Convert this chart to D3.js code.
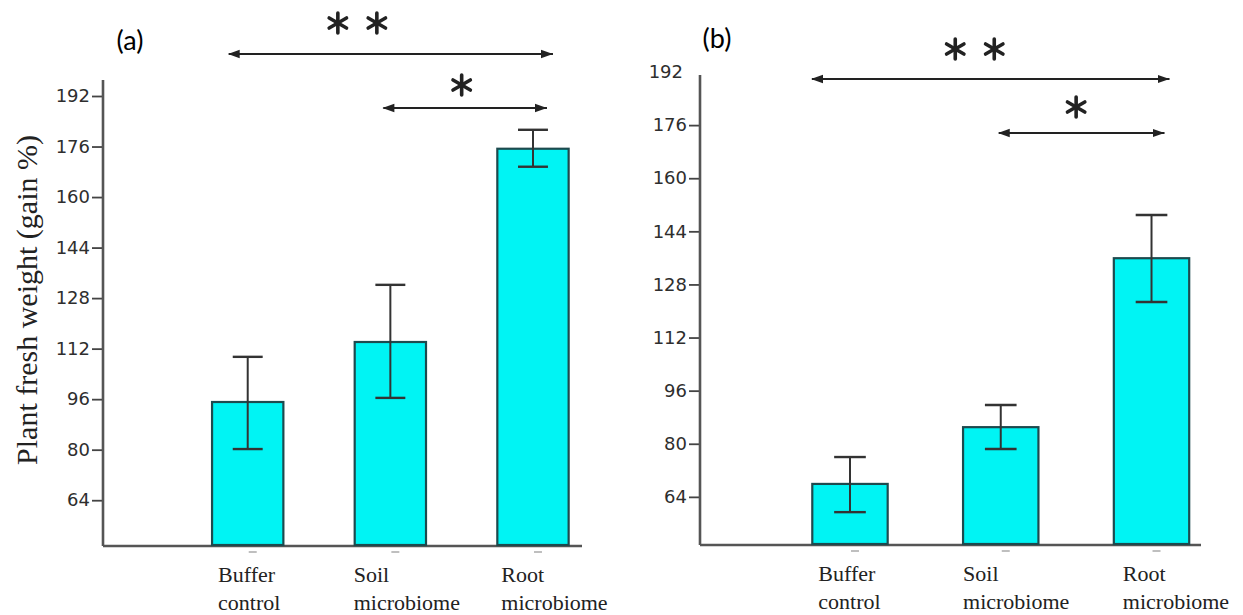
<!DOCTYPE html>
<html>
<head>
<meta charset="utf-8">
<script src="https://cdn.jsdelivr.net/npm/d3@7"></script>
<style>
  body { margin: 0; background: #fff; }
  svg { display: block; }
</style>
</head>
<body>
<svg id="chart" width="1243" height="615"></svg>
<script>
// Chart data
const categories = ['Buffer control', 'Soil microbiome', 'Root microbiome'];
const categoryLines = [['Buffer', 'control'], ['Soil', 'microbiome'], ['Root', 'microbiome']];
const yTicks = [64, 80, 96, 112, 128, 144, 160, 176, 192];
const yDomain = [49.5, 192];

// panel (a)
const meansA = [95.1, 114.1, 175.3];
const lowA = [80.2, 96.4, 169.6];
const highA = [109.4, 132.2, 181.3];

// panel (b)
const meansB = [67.9, 85.0, 135.9];
const lowB = [59.4, 78.4, 122.7];
const highB = [76.0, 91.7, 148.9];

// significance comparisons
const comparisons = [
    {from: 'Buffer control', to: 'Root microbiome', stars: 2},
    {from: 'Soil microbiome', to: 'Root microbiome', stars: 1}
];

const svg = d3.select('#chart');

// arrow heads
const defs = svg.append('defs');
['start', 'end'].forEach(function(k){
    defs.append('marker')
        .attr('id', `arrow-${k}`)
        .attr('markerUnits', 'userSpaceOnUse')
        .attr('markerWidth', 13)
        .attr('markerHeight', 10)
        .attr('refX', k == 'end' ? 12 : 1)
        .attr('refY', 5)
        .attr('orient', 'auto')
        .append('path')
        .attr('d', k == 'end' ? 'M0,0.8 L12,5 L0,9.2 Z' : 'M12,0.8 L0,5 L12,9.2 Z')
        .attr('fill', '#222');
});

// Function to draw one star (asterisk) as three crossing strokes
function drawStar(g, cx, cy, r){
    [90, 30, 150].forEach(function(a){
        const dx = r*Math.cos(a*Math.PI/180), dy = r*Math.sin(a*Math.PI/180);
        g.append('line')
            .attr('x1', cx-dx).attr('y1', cy-dy)
            .attr('x2', cx+dx).attr('y2', cy+dy)
            .attr('stroke', '#222')
            .attr('stroke-width', 3.6)
            .attr('stroke-linecap', 'round');
    });
}

// Function to draw a panel
function drawPanel(p){
    const g = svg.append('g');

    const x = d3.scaleBand()
        .domain(categories)
        .range(p.bandRange)
        .paddingInner(0.5)
        .paddingOuter(0.25);

    const y = d3.scaleLinear()
        .domain(yDomain)
        .range([p.baseY, p.y192]);

    // y axis ticks and labels
    const axis = g.append('g')
        .attr('transform', `translate(${p.axisX},0)`)
        .call(d3.axisLeft(y).tickValues(yTicks).tickSize(11).tickPadding(2));
    axis.select('.domain').remove();
    axis.selectAll('.tick line').attr('stroke', '#444').attr('stroke-width', 1.8);
    axis.selectAll('.tick text')
        .attr('fill', '#2e2e2e')
        .style('font-family', '"DejaVu Sans", Verdana, sans-serif')
        .style('font-size', '18px');
    if(p.hideTopTick){
        axis.selectAll('.tick').filter(d => d == 192).select('line').remove();
        axis.selectAll('.tick').filter(d => d == 192).select('text').attr('x', -17);
    }

    // axis lines
    g.append('line')
        .attr('x1', p.axisX).attr('x2', p.axisX)
        .attr('y1', p.axisTop).attr('y2', p.baseY)
        .attr('stroke', '#555').attr('stroke-width', 2.6);
    g.append('line')
        .attr('x1', p.axisX).attr('x2', p.axisEnd)
        .attr('y1', p.baseY).attr('y2', p.baseY)
        .attr('stroke', '#555').attr('stroke-width', 2.6);

    // bars
    g.selectAll('rect.bar')
        .data(p.means)
        .join('rect')
        .attr('class', 'bar')
        .attr('x', (d, i) => x(categories[i]))
        .attr('y', d => y(d))
        .attr('width', x.bandwidth())
        .attr('height', d => p.baseY - y(d) - 1)
        .attr('fill', '#00F4F4')
        .attr('stroke', '#1d4a4e')
        .attr('stroke-width', 2.2);

    // error bars
    const cap = x.bandwidth()*0.42;
    p.means.forEach(function(d, i){
        const cx = x(categories[i]) + x.bandwidth()/2;
        g.append('line')
            .attr('x1', cx).attr('x2', cx)
            .attr('y1', y(p.high[i])).attr('y2', y(p.low[i]))
            .attr('stroke', '#333').attr('stroke-width', 2);
        [p.high[i], p.low[i]].forEach(function(v){
            g.append('line')
                .attr('x1', cx-cap/2).attr('x2', cx+cap/2)
                .attr('y1', y(v)).attr('y2', y(v))
                .attr('stroke', '#333').attr('stroke-width', 2.4);
        });

        // faint marks under the axis
        g.append('line')
            .attr('x1', cx+p.markShift-4).attr('x2', cx+p.markShift+4)
            .attr('y1', p.baseY+6).attr('y2', p.baseY+6)
            .attr('stroke', '#aaa').attr('stroke-width', 1.5);

        // category labels
        const t = g.append('text')
            .attr('x', x(categories[i]) + p.labelShift[i])
            .attr('y', p.baseY + 36)
            .attr('fill', '#222')
            .style('font-family', '"Liberation Serif", "Times New Roman", serif')
            .style('font-size', '22px');
        categoryLines[i].forEach(function(line, j){
            t.append('tspan')
                .attr('x', x(categories[i]) + p.labelShift[i])
                .attr('dy', j == 0 ? 0 : 28)
                .text(line);
        });
    });

    // significance arrows and stars
    const center = c => x(c) + x.bandwidth()/2;
    comparisons.forEach(function(c, i){
        const a = p.arrows[i];
        g.append('line')
            .attr('x1', center(c.from) + a.dx1)
            .attr('x2', center(c.to) + a.dx2)
            .attr('y1', a.y).attr('y2', a.y)
            .attr('stroke', '#222').attr('stroke-width', 1.9)
            .attr('marker-start', 'url(#arrow-start)')
            .attr('marker-end', 'url(#arrow-end)');
        const mid = (center(c.from) + center(c.to))/2 + a.starShift;
        for(let s = 0; s < c.stars; s++){
            drawStar(g, mid + (s - (c.stars-1)/2)*39, a.starY, 10);
        }
    });

    // panel letter
    g.append('text')
        .attr('x', p.letterX)
        .attr('y', p.letterY)
        .attr('text-anchor', 'middle')
        .attr('fill', '#000')
        .style('font-family', 'Lato, "Open Sans", sans-serif')
        .style('font-size', '27px')
        .text(p.letter);

    return g;
}

drawPanel({
    letter: '(a)', letterX: 130, letterY: 50,
    means: meansA, low: lowA, high: highA,
    bandRange: [176.4, 604.3],
    axisX: 103, axisEnd: 582, axisTop: 80,
    baseY: 546, y192: 96,
    labelShift: [6, -1, 4], markShift: 5,
    arrows: [
        {y: 54, dx1: -19, dx2: 20, starY: 23, starShift: -33},
        {y: 108, dx1: -7, dx2: 14, starY: 85, starShift: 0}
    ]
});

drawPanel({
    letter: '(b)', letterX: 717, letterY: 48,
    means: meansB, low: lowB, high: highB,
    bandRange: [774.6, 1226.9],
    axisX: 700, axisEnd: 1201, axisTop: 75,
    baseY: 545, y192: 72, hideTopTick: true,
    labelShift: [6, 0, 9], markShift: 5,
    arrows: [
        {y: 79, dx1: -38, dx2: 18, starY: 49, starShift: -26},
        {y: 133, dx1: -2, dx2: 13, starY: 107, starShift: 0}
    ]
});

// y axis title (panel a only)
svg.append('text')
    .attr('transform', 'translate(37,300) rotate(-90)')
    .attr('text-anchor', 'middle')
    .attr('fill', '#222')
    .style('font-family', '"Liberation Serif", "Times New Roman", serif')
    .style('font-size', '30px')
    .text('Plant fresh weight (gain %)');
</script>
</body>
</html>
